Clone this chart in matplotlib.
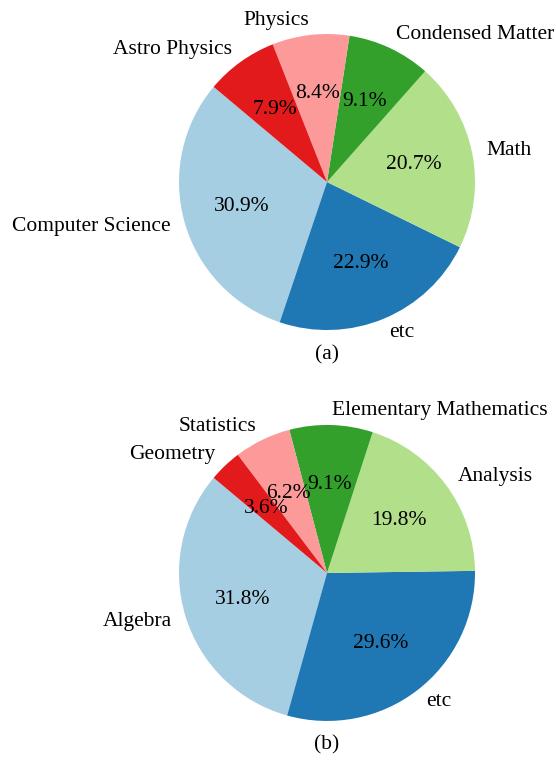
import matplotlib
matplotlib.use("Agg")
import matplotlib.pyplot as plt

plt.rcParams['font.family'] = ['Liberation Serif', 'DejaVu Serif']
plt.rcParams['font.size'] = 15.5

labels_a = ['Computer Science', 'etc', 'Math', 'Condensed Matter', 'Physics', 'Astro Physics']
sizes_a = [30.9, 22.9, 20.7, 9.1, 8.4, 7.9]

labels_b = ['Algebra', 'etc', 'Analysis', 'Elementary Mathematics', 'Statistics', 'Geometry']
sizes_b = [31.8, 29.6, 19.8, 9.1, 6.2, 3.6]

colors = plt.cm.Paired.colors[:6]

fig = plt.figure(figsize=(5.56, 7.64), dpi=100)

ax1 = fig.add_axes([0.2554, 0.5196, 0.6655, 0.4843])
ax1.pie(sizes_a, labels=labels_a, colors=colors, autopct='%1.1f%%', startangle=140)
ax1.set_xlim(-1.25, 1.25)
ax1.set_ylim(-1.25, 1.25)
ax1.set_aspect('equal')

ax2 = fig.add_axes([0.2554, 0.0079, 0.6655, 0.4843])
ax2.pie(sizes_b, labels=labels_b, colors=colors, autopct='%1.1f%%', startangle=140)
ax2.set_xlim(-1.25, 1.25)
ax2.set_ylim(-1.25, 1.25)
ax2.set_aspect('equal')

fig.text(327 / 556, 1 - 355 / 764, '(a)', ha='center', va='center')
fig.text(327 / 556, 1 - 745 / 764, '(b)', ha='center', va='center')

fig.savefig('out.png', dpi=100)
